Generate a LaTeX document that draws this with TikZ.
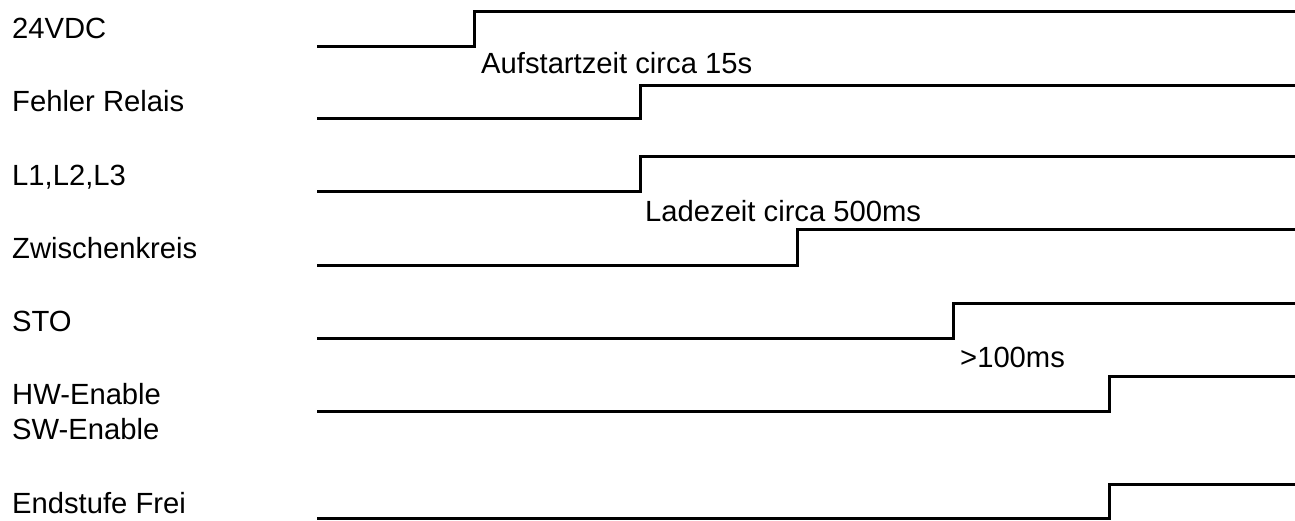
\documentclass[tikz,border=0pt]{standalone}
\usepackage{fontspec}
\setmainfont{Liberation Sans}
\begin{document}
\begin{tikzpicture}[x=1pt,y=-1pt,
  lbl/.style={anchor=base west,inner sep=0pt,font=\fontsize{29.2}{34}\selectfont},
  sig/.style={line width=3pt}]
\useasboundingbox (0,0) rectangle (1295,520);
% signal names
\node[lbl] (n1) at (12,38) {24VDC};
\node[lbl] (n2) at (12,111) {Fehler Relais};
\node[lbl] (n3) at (12,185) {L1,L2,L3};
\node[lbl] (n4) at (12,258) {Zwischenkreis};
\node[lbl] (n5) at (12,331) {STO};
\node[lbl] (n6) at (12,404) {HW-Enable};
\node[lbl] (n6b) at (12,439) {SW-Enable};
\node[lbl] (n7) at (12,513) {Endstufe Frei};
% annotations
\node[lbl] (a1) at (481,73) {Aufstartzeit circa 15s};
\node[lbl] (a2) at (645,221) {Ladezeit circa 500ms};
\node[lbl] (a3) at (960,367) {>100ms};
% waveforms
\draw[sig] (317,46) -- (474,46) -- (474,11) -- (1295,11);
\draw[sig] (317,118) -- (640,118) -- (640,85) -- (1295,85);
\draw[sig] (317,191) -- (640,191) -- (640,156) -- (1295,156);
\draw[sig] (317,265) -- (797,265) -- (797,229) -- (1295,229);
\draw[sig] (317,338) -- (953,338) -- (953,303) -- (1295,303);
\draw[sig] (317,411) -- (1109,411) -- (1109,376) -- (1295,376);
\draw[sig] (317,518.5) -- (1109,518.5) -- (1109,484) -- (1295,484);
\end{tikzpicture}
\end{document}
